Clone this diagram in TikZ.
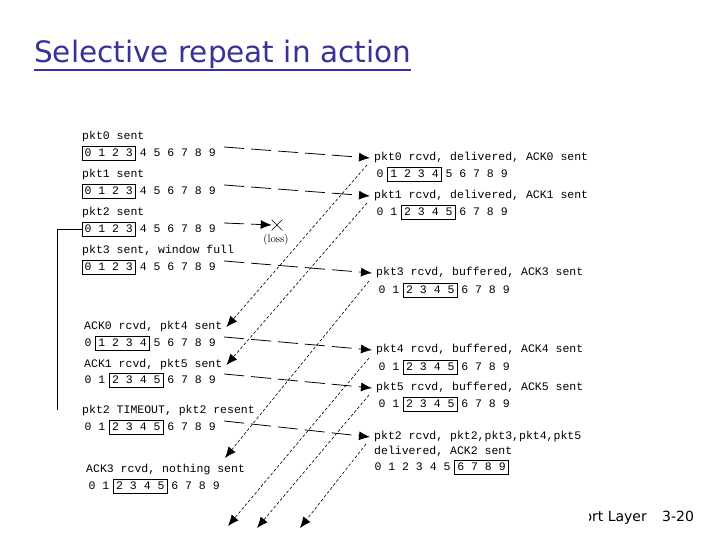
\documentclass[tikz,border=0pt]{standalone}
\usepackage{fontspec}
\setmonofont{Liberation Mono}
\newfontfamily\slidefont{DejaVu Sans}
\usetikzlibrary{arrows.meta,shapes.misc,calc}
\definecolor{titleblue}{RGB}{51,51,153}
\tikzset{
  lbl/.style={anchor=west,font=\fontsize{11.5}{13}\selectfont\ttfamily,inner xsep=4pt,inner ysep=1pt},
  digit/.style={font=\fontsize{11.5}{13}\selectfont\ttfamily,inner sep=0pt},
  win/.style={line width=0.8pt},
  pkt/.style={line width=0.8pt,dash pattern=on 20pt off 7pt,-{Latex[length=11pt,width=9pt]}},
  ack/.style={line width=0.6pt,dash pattern=on 3pt off 2pt,-{Latex[length=11pt,width=9pt]}},
}
\newcommand{\winrow}[5]{%
  \foreach \d in {0,...,9}
    \node[digit] (#1-\d) at ({#2+13.8*\d},#3) {\d};
  \draw[win] ({#2+13.8*#4-6},{#3-7}) rectangle ({#2+13.8*#5+6},{#3+7});
  \coordinate (#1-out) at ($(#1-9)+(12,-6)$);
  \coordinate (#1-in) at ($(#1-0)+(-13,-9)$);
}
\begin{document}
\begin{tikzpicture}[x=1pt,y=-1pt]
  \useasboundingbox (0,0) rectangle (720,540);
  \node[anchor=base west,inner sep=0pt,font=\slidefont\fontsize{29.5}{34}\selectfont,text=titleblue] (title) at (34,63) {Selective repeat in action};
  \draw[titleblue,line width=1.6pt] ([yshift=-7pt]title.base west) -- ([yshift=-7pt]title.base east);

  \node[lbl] (s0) at (78,137) {pkt0 sent};
  \winrow{w0}{88}{153}{0}{3}
  \node[lbl] (s1) at (78,175) {pkt1 sent};
  \winrow{w1}{88}{191}{0}{3}
  \node[lbl] (s2) at (78,213) {pkt2 sent};
  \winrow{w2}{88}{229}{0}{3}
  \node[lbl] (s3) at (78,251) {pkt3 sent, window full};
  \winrow{w3}{88}{267}{0}{3}
  \node[lbl] (s4) at (80,327) {ACK0 rcvd, pkt4 sent};
  \winrow{w4}{88}{343}{1}{4}
  \node[lbl] (s5) at (80,365) {ACK1 rcvd, pkt5 sent};
  \winrow{w5}{88}{380}{2}{5}
  \node[lbl] (s6) at (78,411) {pkt2 TIMEOUT, pkt2 resent};
  \winrow{w6}{88}{427}{2}{5}
  \node[lbl] (s7) at (82,470) {ACK3 rcvd, nothing sent};
  \winrow{w7}{92}{486}{2}{5}

  \node[lbl] (r0) at (370,158) {pkt0 rcvd, delivered, ACK0 sent};
  \winrow{v0}{380}{174}{1}{4}
  \node[lbl] (r1) at (370,196) {pkt1 rcvd, delivered, ACK1 sent};
  \winrow{v1}{380}{212}{2}{5}
  \node[lbl] (r3) at (372,273) {pkt3 rcvd, buffered, ACK3 sent};
  \winrow{v3}{382}{290}{2}{5}
  \node[lbl] (r4) at (372,350) {pkt4 rcvd, buffered, ACK4 sent};
  \winrow{v4}{382}{367}{2}{5}
  \node[lbl] (r5) at (372,388) {pkt5 rcvd, buffered, ACK5 sent};
  \winrow{v5}{382}{404}{2}{5}
  \node[lbl] (r2) at (370,437) {pkt2 rcvd, pkt2,pkt3,pkt4,pkt5};
  \node[lbl] (r2b) at (370,451) {delivered, ACK2 sent};
  \winrow{v2}{378}{467}{6}{9}

  \node[draw,cross out,minimum size=10pt,inner sep=0pt,line width=0.6pt] (lost) at (277,225) {};
  \node[font=\fontsize{11}{13}\selectfont] (losslbl) at (276,240) {(loss)};
  \draw[win] ([xshift=-6pt]w2-0.center) -- ++(-25,0) -- ++(0,181);

  \draw[pkt] (w0-out) -- (r0.west);
  \draw[pkt] (w1-out) -- (r1.west);
  \draw[pkt] (w2-out) -- (lost.west);
  \draw[pkt] (w3-out) -- (r3.west);
  \draw[pkt] (w4-out) -- (r4.west);
  \draw[pkt] (w5-out) -- (r5.west);
  \draw[pkt] (w6-out) -- (r2.west);

  \coordinate (ack2) at (366,444);
  \coordinate (a3) at (225,458);
  \coordinate (a4) at (228,526);
  \coordinate (a5) at (257,528);
  \coordinate (a2) at (300,528);
  \draw[ack] (v0-in) -- (s4.east);
  \draw[ack] (v1-in) -- (s5.east);
  \draw[ack] (v3-in) -- (a3);
  \draw[ack] (v4-in) -- (a4);
  \draw[ack] (v5-in) -- (a5);
  \draw[ack] (ack2) -- (a2);

  \begin{scope}
    \clip (589,495) rectangle (720,540);
    \node[anchor=base east,inner sep=0pt,font=\slidefont\fontsize{14}{16}\selectfont] (layer) at (647,521) {Transport Layer};
  \end{scope}
  \node[anchor=base west,inner sep=0pt,font=\slidefont\fontsize{14}{16}\selectfont] (pagenum) at (662,521) {3-20};
\end{tikzpicture}
\end{document}
